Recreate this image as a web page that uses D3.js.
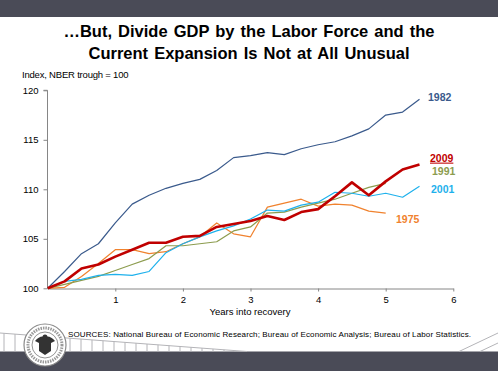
<!DOCTYPE html>
<html>
<head>
<meta charset="utf-8">
<script src="https://cdn.jsdelivr.net/npm/d3@7/dist/d3.min.js"></script>
<style>
  body { margin: 0; background: #fff; }
  svg { display: block; font-family: "Liberation Sans", Arial, sans-serif; }
</style>
</head>
<body>
<div id="chart"></div>
<script>
// Quarters into recovery (years)
const quarters = [0, 0.25, 0.5, 0.75, 1, 1.25, 1.5, 1.75, 2, 2.25, 2.5, 2.75, 3, 3.25, 3.5, 3.75, 4, 4.25, 4.5, 4.75, 5, 5.25, 5.5];

// Index, NBER trough = 100
const s1982 = [100, 101.7, 103.5, 104.5, 106.6, 108.5, 109.4, 110.1, 110.6, 111.0, 111.9, 113.2, 113.4, 113.7, 113.5, 114.1, 114.5, 114.8, 115.4, 116.1, 117.5, 117.8, 119.1];
const s2009 = [100, 100.7, 102.0, 102.4, 103.2, 103.9, 104.6, 104.6, 105.2, 105.3, 106.2, 106.5, 106.8, 107.3, 106.9, 107.7, 108.0, 109.3, 110.7, 109.4, 110.8, 112.0, 112.5];
const s1991 = [100, 100.4, 100.8, 101.2, 101.8, 102.4, 103.0, 104.3, 104.3, 104.5, 104.7, 105.8, 106.2, 107.6, 107.7, 108.2, 108.6, 109.0, 109.6, 110.2, 110.6];
const s2001 = [100, 100.7, 100.9, 101.3, 101.4, 101.3, 101.7, 103.6, 104.5, 105.2, 105.8, 106.3, 107.0, 107.9, 107.8, 108.4, 108.7, 109.7, 109.6, 109.3, 109.6, 109.2, 110.3];
const s1975 = [100, 100.1, 101.2, 102.5, 103.9, 103.9, 103.5, 103.7, 104.5, 105.2, 106.6, 105.5, 105.2, 108.2, 108.6, 109.0, 108.3, 108.5, 108.4, 107.8, 107.6];

const yTicks = [100, 105, 110, 115, 120];
const xTicks = [1, 2, 3, 4, 5, 6];

const series = [
  { name: '1975', values: s1975, color: '#f0822e', width: 1.2, labelX: 396, labelV: 107.0 },
  { name: '1991', values: s1991, color: '#8c9c4e', width: 1.2, labelX: 432, labelV: 111.8 },
  { name: '2001', values: s2001, color: '#1eb1ec', width: 1.2, labelX: 431, labelV: 110.0 },
  { name: '1982', values: s1982, color: '#3a5a8c', width: 1.2, labelX: 428, labelV: 119.3 },
  { name: '2009', values: s2009, color: '#c00000', width: 2.6, labelX: 430, labelV: 113.2 }
];

const W = 498, H = 371;
const svg = d3.select('#chart').append('svg')
  .attr('width', W)
  .attr('height', H);

// frame bars
svg.append('rect').attr('x', 0).attr('y', 0).attr('width', W).attr('height', 17).attr('fill', '#4a4b57');
svg.append('rect').attr('x', 0).attr('y', 351.5).attr('width', W).attr('height', H - 351.5).attr('fill', '#4a4b57');

// footer decoration
const deco = svg.append('g').attr('stroke', '#b4b4b8').attr('stroke-width', 1).attr('fill', 'none');
deco.append('line').attr('x1', 0).attr('y1', 333).attr('x2', 247).attr('y2', 351.5);
for (let xv = 4; xv < 240; xv += 11) {
  const yTop = 333 + (xv / 247) * 18.5;
  deco.append('line').attr('x1', xv).attr('y1', yTop).attr('x2', xv).attr('y2', 351.5);
}
deco.append('line').attr('x1', 459).attr('y1', 351.5).attr('x2', 498).attr('y2', 333);
deco.append('line').attr('x1', 480).attr('y1', 351.5).attr('x2', 498).attr('y2', 343);

// seal
const seal = svg.append('g').attr('transform', 'translate(45,345)');
seal.append('circle').attr('r', 21).attr('fill', '#fff').attr('stroke', '#8a8a8a').attr('stroke-width', 1.2);
seal.append('circle').attr('r', 17).attr('fill', 'none').attr('stroke', '#9a9a9a').attr('stroke-width', 3).attr('stroke-dasharray', '1.5,1');
seal.append('circle').attr('r', 13).attr('fill', '#fff').attr('stroke', '#777').attr('stroke-width', 0.8);
seal.append('path').attr('d', 'M-10,-4 Q-5,-10 0,-8 Q5,-10 10,-4 L6,-2 L6,6 L0,10 L-6,6 L-6,-2 Z').attr('fill', '#333');
seal.append('circle').attr('cy', -8).attr('r', 2.5).attr('fill', '#333');

// titles
const title = svg.append('g').attr('text-anchor', 'middle').attr('font-weight', 'bold').attr('font-size', 16.5).attr('fill', '#000');
title.append('text').attr('x', 249).attr('y', 37).attr('word-spacing', 1.5).text('…But, Divide  GDP by the Labor Force and the');
title.append('text').attr('x', 249).attr('y', 58.5).attr('word-spacing', 1.5).text('Current Expansion  Is Not at All Unusual');

svg.append('text').attr('x', 22).attr('y', 78).attr('font-size', 9.5).attr('letter-spacing', -0.2).attr('fill', '#000')
  .text('Index, NBER trough = 100');

// scales
const x = d3.scaleLinear().domain([0, 6]).range([47.7, 453.3]);
const y = d3.scaleLinear().domain([100, 120]).range([288.3, 90.3]);

const yAxis = svg.append('g')
  .attr('transform', 'translate(47.5,0)')
  .call(d3.axisLeft(y).tickValues(yTicks).tickSize(4).tickPadding(5));
const xAxis = svg.append('g')
  .attr('transform', 'translate(0,288.5)')
  .call(d3.axisBottom(x).tickValues(xTicks).tickFormat(d3.format('d')).tickSize(3).tickPadding(5).tickSizeOuter(0));
[yAxis, xAxis].forEach(a => {
  a.select('.domain').attr('stroke', '#868686');
  a.selectAll('.tick line').attr('stroke', '#868686');
  a.selectAll('.tick text').attr('font-size', 9.5).attr('fill', '#000').attr('font-family', '"Liberation Sans", Arial, sans-serif');
});
yAxis.select('.domain').attr('d', 'M-4,' + y(120) + 'H0V' + y(100));

svg.append('text').attr('x', 250).attr('y', 315).attr('text-anchor', 'middle').attr('font-size', 9.5).attr('fill', '#000')
  .text('Years into recovery');

// lines
const line = d3.line()
  .x((d, i) => x(quarters[i]))
  .y(d => y(d));

svg.append('g').selectAll('path')
  .data(series)
  .join('path')
  .attr('fill', 'none')
  .attr('stroke', d => d.color)
  .attr('stroke-width', d => d.width)
  .attr('stroke-linejoin', 'round')
  .attr('d', d => line(d.values));

// labels
const labels = svg.append('g').attr('font-size', 10.5).attr('font-weight', 'bold');
series.forEach(s => {
  labels.append('text')
    .attr('x', s.labelX)
    .attr('y', y(s.labelV) + 4)
    .attr('fill', s.color)
    .attr('text-decoration', s.name === '2009' ? 'underline' : null)
    .text(s.name);
});

svg.append('text').attr('x', 68).attr('y', 337).attr('font-size', 8).attr('fill', '#000')
  .attr('textLength', 403).attr('lengthAdjust', 'spacing')
  .text('SOURCES:  National  Bureau  of Economic  Research;  Bureau  of Economic  Analysis;  Bureau  of Labor Statistics.');
</script>
</body>
</html>
